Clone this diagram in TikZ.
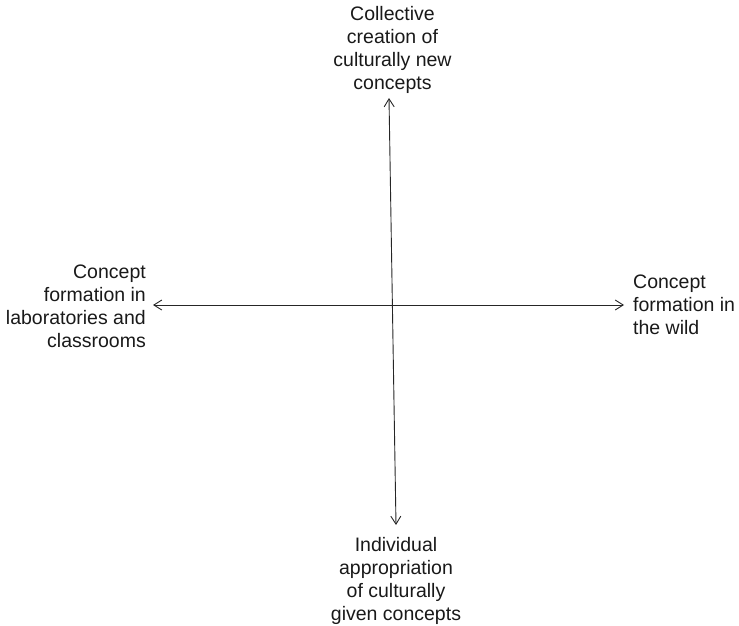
\documentclass[tikz,border=0pt]{standalone}
\usepackage{fontspec}
\setmainfont{Liberation Sans}
\usetikzlibrary{arrows.meta}
\begin{document}
\begin{tikzpicture}[x=1bp,y=-1bp,
  lbl/.style={inner sep=0pt,font=\fontsize{19.5bp}{23bp}\selectfont,text=black!90},
  axis/.style={line width=0.9bp,draw=black!85,{Straight Barb[length=8bp,width=10bp]}-{Straight Barb[length=8bp,width=10bp]}}]
\useasboundingbox (0,0) rectangle (739,626);
\node[lbl,align=center,anchor=north] (top) at (392.5,6) {Collective\\creation of\\culturally new\\concepts};
\node[lbl,align=center,anchor=north] (bottom) at (396,537) {Individual\\appropriation\\of culturally\\given concepts};
\node[lbl,align=right,anchor=north east] (left) at (146,265) {Concept\\formation in\\laboratories and\\classrooms};
\node[lbl,align=left,anchor=north west] (right) at (633,275) {Concept\\formation in\\the wild};
\coordinate (vt) at (389,98);
\coordinate (vb) at (396,525);
\coordinate (hl) at (153,305);
\coordinate (hr) at (624,305);
\draw[axis] (vt) -- (vb);
\draw[axis] (hl) -- (hr);
\end{tikzpicture}
\end{document}
